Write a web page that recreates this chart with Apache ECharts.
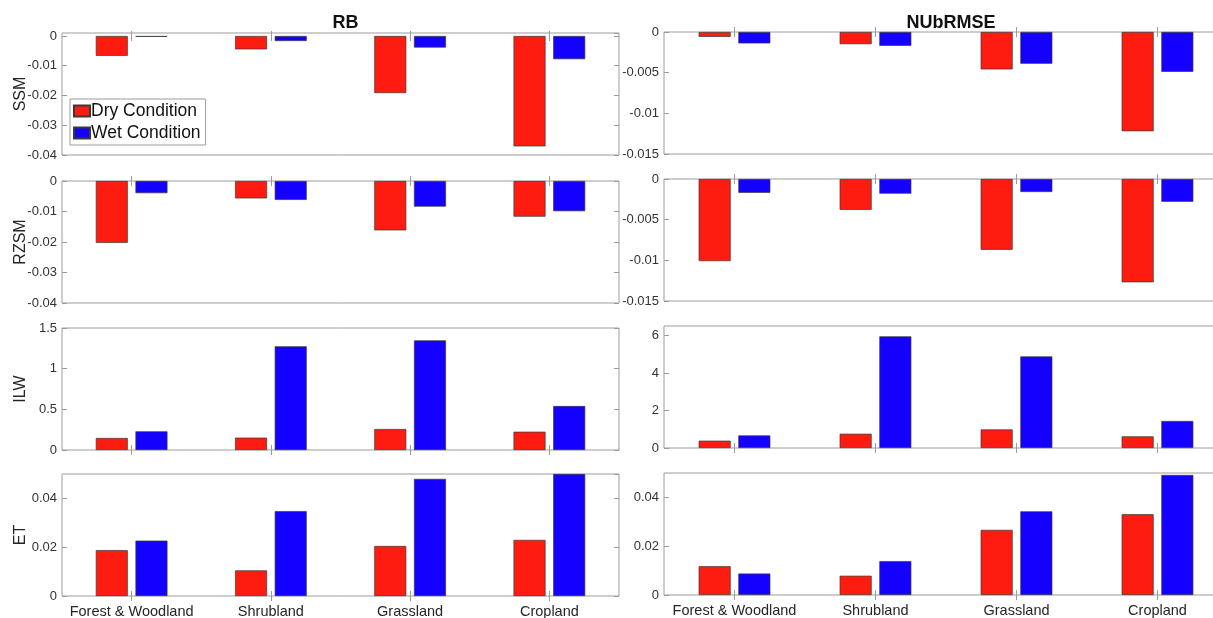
<!DOCTYPE html>
<html>
<head>
<meta charset="utf-8">
<script src="https://cdn.jsdelivr.net/npm/echarts@6/dist/echarts.min.js"></script>
<style>
  html, body { margin: 0; padding: 0; background: #fff; }
  #chart { width: 1213px; height: 618px; }
</style>
</head>
<body>
<div id="chart"></div>
<script>
const categories = ['Forest & Woodland', 'Shrubland', 'Grassland', 'Cropland']
const rowNames = ['SSM', 'RZSM', 'ILW', 'ET']
const colTitles = ['RB', 'NUbRMSE']
const seriesNames = ['Dry Condition', 'Wet Condition']

// RB column
const ssmRbDry = [-0.0067, -0.0045, -0.0192, -0.0371]
const ssmRbWet = [-0.0003, -0.0017, -0.0039, -0.0078]
const rzsmRbDry = [-0.0203, -0.0057, -0.0162, -0.0117]
const rzsmRbWet = [-0.0040, -0.0062, -0.0084, -0.0099]
const ilwRbDry = [0.148, 0.152, 0.258, 0.225]
const ilwRbWet = [0.23, 1.275, 1.348, 0.541]
const etRbDry = [0.0188, 0.0105, 0.0205, 0.023]
const etRbWet = [0.0227, 0.0348, 0.048, 0.05]

// NUbRMSE column
const ssmNubDry = [-0.0006, -0.0015, -0.0046, -0.0122]
const ssmNubWet = [-0.0014, -0.0017, -0.0039, -0.0049]
const rzsmNubDry = [-0.0101, -0.0038, -0.0087, -0.0127]
const rzsmNubWet = [-0.0017, -0.0018, -0.0016, -0.0028]
const ilwNubDry = [0.39, 0.76, 0.99, 0.62]
const ilwNubWet = [0.67, 5.95, 4.88, 1.44]
const etNubDry = [0.0118, 0.0079, 0.0267, 0.0331]
const etNubWet = [0.0088, 0.0139, 0.0343, 0.0492]

// y limits per row
const rbMin = [-0.04, -0.04, 0, 0]
const rbMax = [0.001, 0, 1.5, 0.05]
const rbStep = [0.01, 0.01, 0.5, 0.02]
const nubMin = [-0.015, -0.015, 0, 0]
const nubMax = [0, 0, 6.5, 0.05]
const nubStep = [0.005, 0.005, 2, 0.02]

const panelData = [
  [[ssmRbDry, ssmRbWet], [ssmNubDry, ssmNubWet]],
  [[rzsmRbDry, rzsmRbWet], [rzsmNubDry, rzsmNubWet]],
  [[ilwRbDry, ilwRbWet], [ilwNubDry, ilwNubWet]],
  [[etRbDry, etRbWet], [etNubDry, etNubWet]]
]
const limits = [[rbMin, rbMax, rbStep], [nubMin, nubMax, nubStep]]

const font = 'Liberation Sans, Arial, Helvetica, sans-serif'
const boxColor = '#9c9c9c'
const colors = ['#fe1b10', '#1400ff']
const colLeft = [62, 664]
const colWidth = [557, 564]
const rowTops = [[33, 181, 328, 474], [32, 179, 326, 473]]

const grid = []
const xAxis = []
const yAxis = []
const series = []

for (let r = 0; r < 4; r++) {
  for (let c = 0; c < 2; c++) {
    const gi = grid.length
    grid.push({
      left: colLeft[c],
      width: colWidth[c],
      top: rowTops[c][r],
      height: 122,
      show: true,
      borderColor: boxColor,
      borderWidth: 1,
      outerBoundsMode: 'none',
      containLabel: false
    })
    const ymin = limits[c][0][r]
    const ymax = limits[c][1][r]
    const ystep = limits[c][2][r]
    // bottom + mirrored top
    ;['bottom', 'top'].forEach(function(pos) {
      xAxis.push({
        type: 'category',
        gridIndex: gi,
        position: pos,
        data: categories,
        axisLine: { show: false },
        axisTick: { show: true, inside: true, alignWithLabel: true, length: 5, interval: 0, lineStyle: { color: boxColor } },
        axisLabel: {
          show: pos === 'bottom' && r === 3,
          interval: 0,
          margin: 8,
          fontSize: 14.5,
          color: '#262626',
          fontFamily: font
        },
        splitLine: { show: false }
      })
    })
    // left + mirrored right
    ;['left', 'right'].forEach(function(pos) {
      yAxis.push({
        type: 'value',
        gridIndex: gi,
        position: pos,
        min: ymin,
        max: ymax,
        interval: ystep,
        name: pos === 'left' && c === 0 ? rowNames[r] : '',
        nameLocation: 'middle',
        nameGap: 33,
        nameMoveOverlap: false,
        nameTextStyle: { fontSize: 16, color: '#262626', fontFamily: font },
        axisLine: { show: false },
        axisTick: { show: true, inside: true, length: 5, lineStyle: { color: boxColor } },
        axisLabel: {
          show: pos === 'left',
          showMaxLabel: ymax % ystep === 0 || ymax === 0 ? true : false,
          margin: 5,
          fontSize: 13,
          color: '#333',
          fontFamily: font
        },
        splitLine: { show: false }
      })
    })
    for (let s = 0; s < 2; s++) {
      series.push({
        name: seriesNames[s],
        type: 'bar',
        xAxisIndex: gi * 2,
        yAxisIndex: gi * 2,
        data: panelData[r][c][s],
        barWidth: 32,
        barGap: '24%',
        clip: true,
        itemStyle: { color: colors[s], borderColor: '#3a3a3a', borderWidth: 0.7 }
      })
    }
  }
}

const chart = echarts.init(document.getElementById('chart'))
chart.setOption({
  backgroundColor: '#fff',
  animation: false,
  textStyle: { fontFamily: font },
  title: colTitles.map(function(t, c) {
    return {
      text: t,
      left: colLeft[c] + colWidth[c] / 2,
      top: 9,
      textAlign: 'center',
      textStyle: { fontSize: 18, fontWeight: 'bold', color: '#111', fontFamily: font }
    }
  }),
  legend: {
    data: seriesNames,
    orient: 'vertical',
    left: 70,
    top: 99,
    itemWidth: 16,
    itemHeight: 11,
    itemGap: 2,
    padding: [2, 5, 2, 3],
    borderColor: boxColor,
    borderWidth: 1,
    backgroundColor: '#fff',
    icon: 'rect',
    textStyle: { fontSize: 17.5, color: '#111', lineHeight: 20, fontFamily: font, padding: [0, 0, 0, -4] }
  },
  grid: grid,
  xAxis: xAxis,
  yAxis: yAxis,
  series: series
})
</script>
</body>
</html>
